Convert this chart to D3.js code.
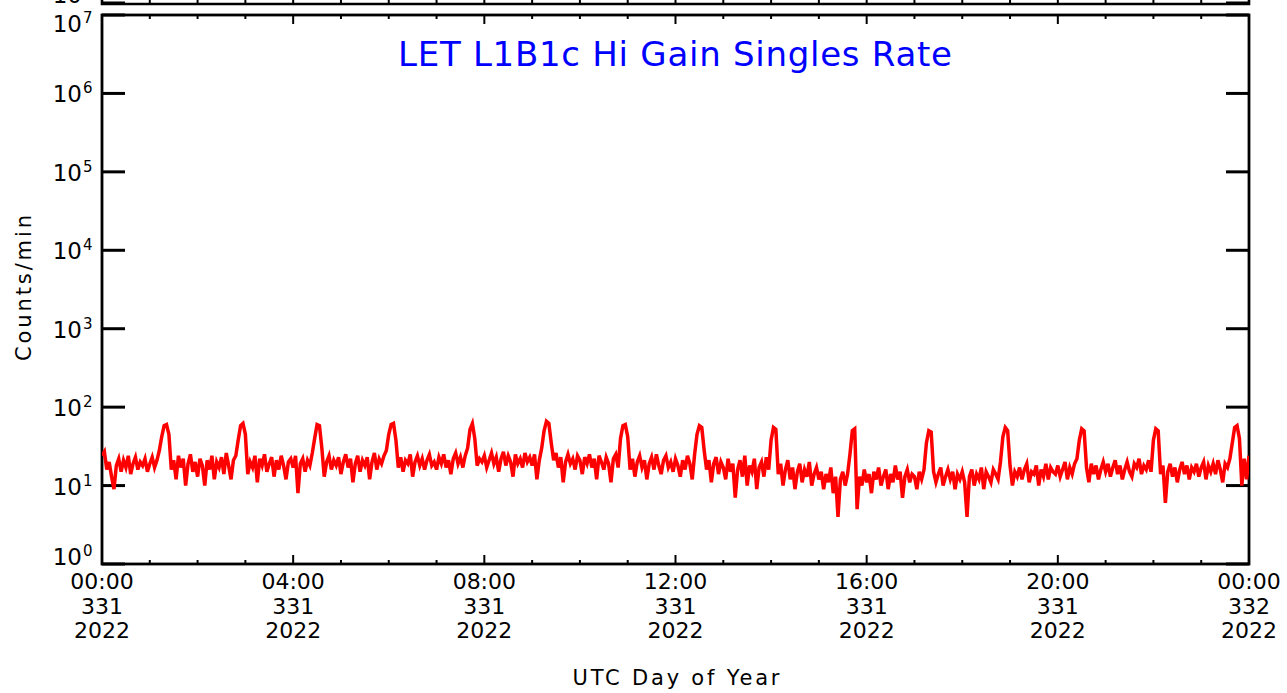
<!DOCTYPE html>
<html>
<head>
<meta charset="utf-8">
<script src="https://cdn.jsdelivr.net/npm/d3@7"></script>
<style>
  body { margin: 0; background: #fff; }
  svg { display: block; }
  text { font-family: "DejaVu Sans", sans-serif; fill: #000; }
</style>
</head>
<body>
<div id="chart"></div>
<script>
// tick labels
const timeLabels = ["00:00", "04:00", "08:00", "12:00", "16:00", "20:00", "00:00"];
const dayLabels = ["331", "331", "331", "331", "331", "331", "332"];
const yearLabels = ["2022", "2022", "2022", "2022", "2022", "2022", "2022"];
const tickHours = [0, 4, 8, 12, 16, 20, 24];
const yExponents = [0, 1, 2, 3, 4, 5, 6, 7];

// counts/min, one value every 3 minutes from 00:00 (one row per hour)
const rate = [
  24, 27, 16, 20, 13, 9, 18, 22, 15, 21, 17, 24, 14, 19, 23, 16, 20, 18, 22, 15,
  19, 23, 17, 21, 28, 42, 58, 60, 45, 16, 21, 12, 24, 17, 22, 10, 19, 25, 15, 20,
  13, 22, 18, 10, 21, 16, 24, 12, 20, 17, 23, 14, 26, 18, 12, 21, 24, 38, 58, 62,
  45, 14, 20, 17, 24, 11, 22, 18, 25, 15, 19, 23, 13, 21, 16, 24, 18, 12, 20, 22,
  17, 24, 8, 19, 22, 15, 21, 18, 26, 40, 60, 58, 30, 13, 20, 24, 16, 21, 18, 23,
  14, 20, 25, 17, 22, 11, 19, 24, 15, 21, 18, 23, 12, 20, 26, 16, 22, 19, 24, 28,
  45, 60, 62, 38, 17, 23, 15, 21, 19, 25, 13, 20, 24, 18, 22, 16, 21, 25, 18, 20,
  16, 23, 19, 25, 17, 21, 14, 22, 26, 19, 23, 17, 24, 30, 52, 62, 40, 18, 22, 20,
  24, 17, 21, 26, 19, 23, 15, 22, 27, 18, 24, 20, 13, 25, 19, 22, 17, 26, 20, 23,
  18, 25, 12, 21, 30, 50, 66, 62, 35, 21, 26, 17, 23, 11, 20, 25, 19, 22, 16, 24,
  21, 14, 23, 19, 25, 17, 22, 12, 24, 20, 16, 23, 19, 11, 22, 25, 17, 40, 58, 60,
  42, 16, 22, 13, 20, 24, 17, 21, 12, 19, 23, 16, 25, 18, 14, 21, 24, 17, 20, 15,
  22, 18, 13, 21, 16, 24, 19, 12, 25, 45, 58, 55, 28, 16, 21, 11, 19, 23, 14, 20,
  17, 12, 22, 15, 19, 7, 16, 21, 13, 24, 10, 18, 15, 22, 9, 17, 20, 13, 23, 16,
  38, 55, 52, 14, 19, 10, 16, 21, 12, 17, 9, 15, 19, 11, 16, 13, 20, 10, 14, 17,
  12, 15, 9, 14, 11, 17, 8, 13, 4, 12, 15, 10, 14, 25, 50, 53, 5, 13, 10, 16,
  11, 14, 8, 15, 12, 17, 10, 13, 16, 9, 14, 11, 18, 12, 15, 7, 13, 16, 11, 14,
  13, 9, 15, 12, 16, 35, 50, 48, 15, 11, 14, 17, 10, 13, 16, 12, 15, 9, 14, 12,
  15, 11, 4, 13, 16, 10, 14, 12, 17, 9, 15, 13, 11, 16, 14, 12, 20, 42, 55, 50,
  18, 10, 15, 13, 17, 12, 16, 19, 11, 15, 14, 18, 10, 16, 13, 19, 12, 17, 15, 14,
  18, 13, 16, 20, 12, 17, 14, 19, 22, 38, 53, 50, 17, 11, 19, 14, 18, 12, 16, 20,
  15, 19, 13, 17, 21, 14, 18, 12, 16, 20, 15, 13, 19, 17, 22, 14, 18, 16, 21, 15,
  38, 53, 50, 14, 18, 6, 15, 19, 13, 17, 11, 16, 20, 14, 18, 12, 17, 15, 19, 13,
  17, 20, 12, 18, 15, 19, 14, 21, 16, 11, 19, 17, 22, 35, 55, 58, 40, 10, 22, 12,
  24
];
const stepMinutes = 3;

const W = 1287, H = 693;
const pLeft = 102, pRight = 1249, pTop = 15, pBottom = 564;

const svg = d3.select("#chart").append("svg")
    .attr("width", W)
    .attr("height", H);

const x = d3.scaleLinear().domain([0, 24]).range([pLeft, pRight]);
const y = d3.scaleLog().domain([1, 1e7]).range([pBottom, pTop]);

const hours = d3.range(0, 25);

// remains of the panel above (only its bottom edge is in view)
const upper = svg.append("g");
upper.append("path")
    .attr("d", `M${pLeft},-10V4H${pRight}V-10`)
    .attr("fill", "none").attr("stroke", "#000").attr("stroke-width", 2.6);
upper.selectAll(".ut").data(hours).enter().append("line")
    .attr("x1", d => x(d)).attr("x2", d => x(d))
    .attr("y1", 4).attr("y2", d => d % 4 === 0 ? -5 : 0)
    .attr("stroke", "#000").attr("stroke-width", 2);
upper.append("path")
    .attr("d", `M${pLeft},3H${pLeft + 23}M${pRight},3H${pRight - 23}`)
    .attr("stroke", "#000").attr("stroke-width", 3);
upper.append("text")
    .attr("x", 82).attr("y", 3)
    .attr("text-anchor", "end")
    .style("font-size", "23px")
    .text("10");

// main frame
svg.append("rect")
    .attr("x", pLeft).attr("y", pTop)
    .attr("width", pRight - pLeft).attr("height", pBottom - pTop)
    .attr("fill", "none").attr("stroke", "#000").attr("stroke-width", 2.8);

// x ticks, bottom and top
const xt = svg.append("g");
xt.selectAll(".xb").data(hours).enter().append("line")
    .attr("x1", d => x(d)).attr("x2", d => x(d))
    .attr("y1", pBottom).attr("y2", d => pBottom - (d % 4 === 0 ? 9 : 4))
    .attr("stroke", "#000").attr("stroke-width", 2);
xt.selectAll(".xtp").data(hours).enter().append("line")
    .attr("x1", d => x(d)).attr("x2", d => x(d))
    .attr("y1", pTop).attr("y2", d => pTop + (d % 4 === 0 ? 9 : 4))
    .attr("stroke", "#000").attr("stroke-width", 2);

// y ticks, left and right
const yt = svg.append("g");
yt.selectAll(".yl").data(yExponents).enter().append("line")
    .attr("x1", pLeft).attr("x2", pLeft + 23)
    .attr("y1", d => y(Math.pow(10, d))).attr("y2", d => y(Math.pow(10, d)))
    .attr("stroke", "#000").attr("stroke-width", 3);
yt.selectAll(".yr").data(yExponents).enter().append("line")
    .attr("x1", pRight).attr("x2", pRight - 23)
    .attr("y1", d => y(Math.pow(10, d))).attr("y2", d => y(Math.pow(10, d)))
    .attr("stroke", "#000").attr("stroke-width", 3);

// y tick labels 10^n
const yl = svg.append("g").selectAll("text").data(yExponents).enter().append("text")
    .attr("x", 82)
    .attr("y", d => {
        const py = y(Math.pow(10, d));
        if (d === 0) return py + 1;
        if (d === 7) return py + 17;
        return py + 9;
    })
    .style("font-size", "23px");
yl.append("tspan").attr("text-anchor", "end").text("10");
yl.append("tspan")
    .attr("x", 83).attr("dy", -9)
    .style("font-size", "15px")
    .text(d => d);

// x tick labels, three lines each
const xl = svg.append("g").selectAll("g").data(tickHours).enter().append("g")
    .attr("transform", d => `translate(${x(d)},0)`);
xl.append("text").attr("y", 589).attr("text-anchor", "middle")
    .style("font-size", "22px").text((d, i) => timeLabels[i]);
xl.append("text").attr("y", 614).attr("text-anchor", "middle")
    .style("font-size", "22px").text((d, i) => dayLabels[i]);
xl.append("text").attr("y", 638).attr("text-anchor", "middle")
    .style("font-size", "22px").text((d, i) => yearLabels[i]);

// axis titles
svg.append("text")
    .attr("transform", "translate(31,288) rotate(-90)")
    .attr("text-anchor", "middle")
    .attr("textLength", 146)
    .style("font-size", "21px")
    .text("Counts/min");

svg.append("text")
    .attr("x", 676).attr("y", 685)
    .attr("text-anchor", "middle")
    .attr("textLength", 207)
    .style("font-size", "21px")
    .text("UTC Day of Year");

// chart title
svg.append("text")
    .attr("x", 675).attr("y", 66)
    .attr("text-anchor", "middle")
    .attr("textLength", 554)
    .style("font-size", "34px")
    .style("fill", "#0000ff")
    .text("LET L1B1c Hi Gain Singles Rate");

// data line
svg.append("clipPath").attr("id", "plotclip")
    .append("rect")
    .attr("x", pLeft).attr("y", pTop)
    .attr("width", pRight - pLeft).attr("height", pBottom - pTop);

const line = d3.line()
    .x((d, i) => x(i * stepMinutes / 60))
    .y(d => y(d));

svg.append("path")
    .datum(rate)
    .attr("clip-path", "url(#plotclip)")
    .attr("d", line)
    .attr("fill", "none")
    .attr("stroke", "#ff0000")
    .attr("stroke-width", 3.5);
</script>
</body>
</html>
